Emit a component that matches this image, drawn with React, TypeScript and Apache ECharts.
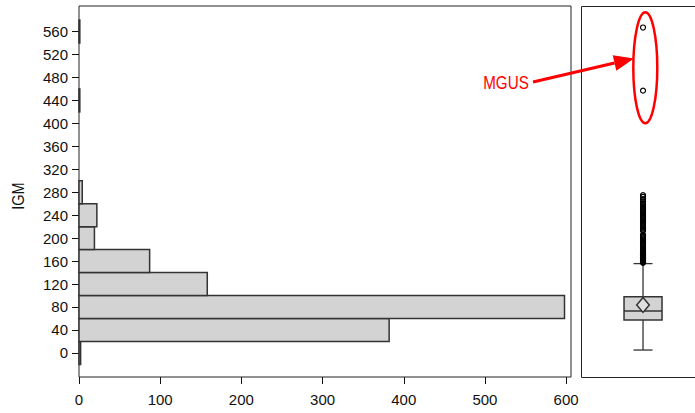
import React, { useEffect, useRef } from "react";
import * as echarts from "echarts";

// Histogram of IGM: bin centres (bin width 40) and counts
const binCenters = [0, 40, 80, 120, 160, 200, 240, 280, 320, 360, 400, 440, 480, 520, 560];
const binCounts = [2, 382, 598, 158, 87, 19, 22, 4, 0, 0, 0, 1, 0, 0, 1];
const binWidth = 40;

// Box plot summary: [lowWhisker, q1, median, q3, highWhisker, mean]
const boxStats = [5, 57.5, 73, 98, 155.6, 83.6];

// Outlier values (dense column above the upper whisker, plus MGUS points)
const outliers = [
  157, 158, 159, 160, 161, 162, 163, 164, 165, 166, 167, 168, 169, 170, 171, 172, 174, 175,
  176, 178, 180, 182, 184, 186, 188, 190, 192, 194, 196, 198, 200, 202, 204, 206, 213, 215,
  217, 219, 221, 223, 225, 227, 229, 231, 233, 235, 237, 239, 241, 243, 245, 247, 249, 251,
  253, 255, 258, 261, 264, 268, 272, 275, 457, 567,
];

const yTicks = [0, 40, 80, 120, 160, 200, 240, 280, 320, 360, 400, 440, 480, 520, 560];
const xTicks = [0, 100, 200, 300, 400, 500, 600];
const yTitle = "IGM";
const annotation = "MGUS";

const FONT = "'Liberation Sans', Arial, sans-serif";

export default function App() {
  const ref = useRef<HTMLDivElement>(null);
  useEffect(() => {
    if (!ref.current) return;
    const chart = echarts.init(ref.current, undefined, { renderer: "svg" });
    const yMin = -42;
    const yMax = 604.5;
    const histData = binCenters
      .map((c, i) => [c, binCounts[i]])
      .filter((d) => d[1] > 0);

    const tip = [634, 58.5];
    const start = [533, 82];
    const dx = tip[0] - start[0];
    const dy = tip[1] - start[1];
    const len = Math.sqrt(dx * dx + dy * dy);
    const ux = dx / len;
    const uy = dy / len;
    const headLen = 20;
    const headHalf = 8;
    const bx = tip[0] - headLen * ux;
    const by = tip[1] - headLen * uy;

    chart.setOption({
      animation: false,
      grid: [
        { left: 79, top: 6, width: 492, height: 371, show: true, borderColor: "#222", borderWidth: 1 },
        { left: 581, top: 6, right: 0, height: 371, show: false },
      ],
      xAxis: [
        {
          gridIndex: 0,
          type: "value",
          min: 0,
          max: 606,
          splitLine: { show: false },
          axisLine: { show: false, onZero: false },
          axisTick: { show: true, inside: false, length: 7, lineStyle: { color: "#111" }, customValues: xTicks },
          axisLabel: {
            customValues: xTicks,
            margin: 15,
            fontSize: 15,
            fontFamily: FONT,
            color: "#111",
          },
        },
        {
          gridIndex: 1,
          type: "value",
          min: 0,
          max: 0.919,
          show: false,
        },
      ],
      yAxis: [
        {
          gridIndex: 0,
          type: "value",
          min: yMin,
          max: yMax,
          splitLine: { show: false },
          axisLine: { show: false, onZero: false },
          axisTick: { show: true, length: 7, lineStyle: { color: "#111" }, customValues: yTicks },
          axisLabel: {
            customValues: yTicks,
            margin: 11,
            fontSize: 15,
            fontFamily: FONT,
            color: "#111",
          },
        },
        {
          gridIndex: 1,
          type: "value",
          min: yMin,
          max: yMax,
          show: false,
        },
      ],
      series: [
        {
          type: "custom",
          xAxisIndex: 0,
          yAxisIndex: 0,
          encode: { x: 1, y: 0 },
          data: histData,
          renderItem: (params: any, api: any) => {
            const c = api.value(0);
            const n = api.value(1);
            const p0 = api.coord([0, c + binWidth / 2]);
            const p1 = api.coord([n, c - binWidth / 2]);
            return {
              type: "rect",
              shape: { x: p0[0], y: p0[1], width: p1[0] - p0[0], height: p1[1] - p0[1] },
              style: { fill: "#d3d3d3", stroke: "#333", lineWidth: 1.5 },
            };
          },
        },
        {
          type: "custom",
          xAxisIndex: 1,
          yAxisIndex: 1,
          encode: { x: 0, y: 1 },
          data: [[0.5, ...boxStats]],
          renderItem: (params: any, api: any) => {
            const xv = api.value(0);
            const lo = api.value(1);
            const q1 = api.value(2);
            const med = api.value(3);
            const q3 = api.value(4);
            const hi = api.value(5);
            const mean = api.value(6);
            const cx = api.coord([xv, 0])[0];
            const yLo = api.coord([xv, lo])[1];
            const yQ1 = api.coord([xv, q1])[1];
            const yMed = api.coord([xv, med])[1];
            const yQ3 = api.coord([xv, q3])[1];
            const yHi = api.coord([xv, hi])[1];
            const yMean = api.coord([xv, mean])[1];
            const bw = 19;
            const cw = 9.5;
            const lineStyle = { stroke: "#333", lineWidth: 1.3 };
            return {
              type: "group",
              children: [
                { type: "line", shape: { x1: cx, y1: yLo, x2: cx, y2: yQ1 }, style: lineStyle },
                { type: "line", shape: { x1: cx, y1: yQ3, x2: cx, y2: yHi }, style: lineStyle },
                { type: "line", shape: { x1: cx - cw, y1: yLo, x2: cx + cw, y2: yLo }, style: lineStyle },
                { type: "line", shape: { x1: cx - cw, y1: yHi, x2: cx + cw, y2: yHi }, style: lineStyle },
                {
                  type: "rect",
                  shape: { x: cx - bw, y: yQ3, width: 2 * bw, height: yQ1 - yQ3 },
                  style: { fill: "#d3d3d3", stroke: "#333", lineWidth: 1.5 },
                },
                { type: "line", shape: { x1: cx - bw, y1: yMed, x2: cx + bw, y2: yMed }, style: { stroke: "#333", lineWidth: 1.5 } },
                {
                  type: "polygon",
                  shape: {
                    points: [
                      [cx, yMean - 7.5],
                      [cx + 6.3, yMean],
                      [cx, yMean + 7.5],
                      [cx - 6.3, yMean],
                    ],
                  },
                  style: { fill: "#e0e0e0", stroke: "#333", lineWidth: 1.5 },
                },
              ],
            };
          },
        },
        {
          type: "scatter",
          xAxisIndex: 1,
          yAxisIndex: 1,
          symbol: "circle",
          symbolSize: 5,
          data: outliers.map((v) => [0.5, v]),
          itemStyle: { color: "rgba(0,0,0,0)", borderColor: "#000", borderWidth: 1.2, opacity: 1 },
        },
      ],
      graphic: [
        {
          type: "polyline",
          shape: { points: [[700, 6.5], [581.5, 6.5], [581.5, 377.5], [700, 377.5]] },
          style: { fill: "none", stroke: "#222", lineWidth: 1 },
        },
        {
          type: "text",
          x: 18,
          y: 196,
          rotation: Math.PI / 2,
          scaleX: 0.85,
          style: {
            text: yTitle,
            fontSize: 17,
            fontFamily: FONT,
            fill: "#111",
            align: "center",
            verticalAlign: "middle",
          },
        },
        {
          type: "ellipse",
          shape: { cx: 645.3, cy: 67.8, rx: 12, ry: 55.5 },
          style: { fill: "none", stroke: "#f00", lineWidth: 2.5 },
        },
        {
          type: "line",
          shape: { x1: start[0], y1: start[1], x2: bx, y2: by },
          style: { stroke: "#f00", lineWidth: 3 },
        },
        {
          type: "polygon",
          shape: {
            points: [
              [tip[0], tip[1]],
              [bx - headHalf * uy, by + headHalf * ux],
              [bx + headHalf * uy, by - headHalf * ux],
            ],
          },
          style: { fill: "#f00" },
        },
        {
          type: "text",
          x: 506,
          y: 82,
          scaleX: 0.8,
          style: {
            text: annotation,
            fontSize: 19,
            fontFamily: FONT,
            fill: "#f00",
            align: "center",
            verticalAlign: "middle",
          },
        },
      ],
    });
    return () => chart.dispose();
  }, []);
  return (
    <div
      ref={ref}
      style={{ position: "fixed", left: 0, top: 0, width: 695, height: 413, background: "#fff" }}
    />
  );
}
